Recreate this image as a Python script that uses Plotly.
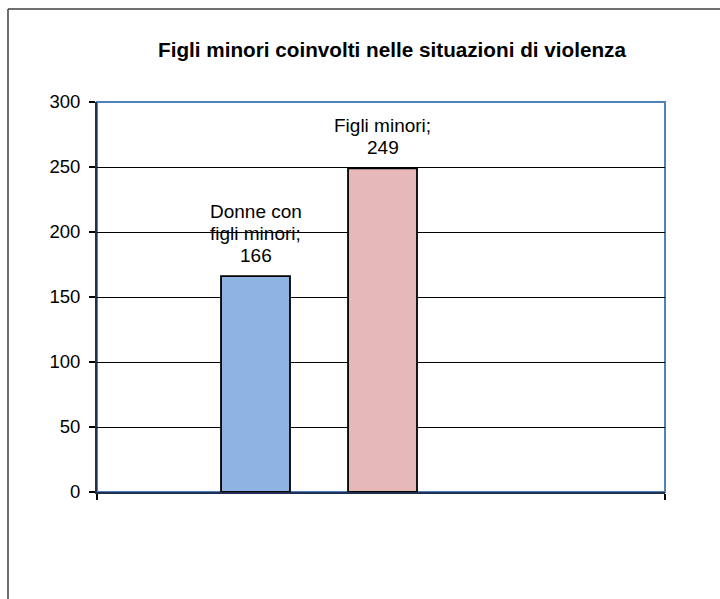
import plotly.graph_objects as go

categories = ["Donne con figli minori", "Figli minori"]
label_lines = [["Donne con", "figli minori;"], ["Figli minori;"]]
values = [166, 249]
colors = ["#8EB4E3", "#E6B9B8"]
y_ticks = [0, 50, 100, 150, 200, 250, 300]
title = "Figli minori coinvolti nelle situazioni di violenza"

x_pos = list(range(len(categories)))
FONT = "Arial, Liberation Sans, sans-serif"

fig = go.Figure()
fig.add_trace(go.Bar(
    x=x_pos, y=values, width=0.543,
    marker=dict(color=colors, line=dict(color="black", width=1.8)),
    hoverinfo="skip", showlegend=False,
))

for xi, parts, v in zip(x_pos, label_lines, values):
    lines = parts + [str(v)]
    for i, line in enumerate(reversed(lines)):
        fig.add_annotation(x=xi, y=v, text=line, showarrow=False,
                           yanchor="middle", yshift=21 + 22 * i,
                           font=dict(family=FONT, size=19, color="black"))

# plot area border (blue)
fig.add_shape(type="rect", xref="paper", yref="paper", x0=0, x1=1, y0=0, y1=1,
              line=dict(color="#4F81BD", width=2), layer="below")
# outer chart border (top and left edges visible)
fig.add_shape(type="line", xref="paper", yref="paper", x0=-0.1567, x1=1.3, y0=1.2385, y1=1.2385,
              line=dict(color="#404040", width=1.5), layer="below")
fig.add_shape(type="line", xref="paper", yref="paper", x0=-0.1567, x1=-0.1567, y0=-0.4, y1=1.2385,
              line=dict(color="#404040", width=1.5), layer="below")

fig.update_layout(
    width=720, height=599,
    margin=dict(l=97, r=55, t=102, b=107),
    paper_bgcolor="white", plot_bgcolor="white",
    title=dict(text=f"<b>{title}</b>", x=392/720, xanchor="center", y=1-50/599, yanchor="middle",
               font=dict(family=FONT, size=20.7, color="black")),
    font=dict(family=FONT, color="black"),
)
fig.update_xaxes(range=[-1.248, 3.224], tickvals=[-1.248, 3.224], ticktext=["", ""],
                 ticks="outside", ticklen=6, tickcolor="black", tickwidth=1.5,
                 showgrid=False, zeroline=False, showline=True, linecolor="#1F2F4F", linewidth=2)
fig.update_yaxes(range=[0, 300], tickvals=y_ticks, ticks="outside", ticklen=6, tickcolor="black",
                 tickwidth=1.5, showgrid=True, gridcolor="black", gridwidth=1, zeroline=False,
                 showline=True, linecolor="#1F2F4F", linewidth=2, ticklabelstandoff=5,
                 tickfont=dict(family=FONT, size=18.5, color="black"))

fig.write_html("out.html", config={"displayModeBar": False},
               post_script="document.body.style.margin='0';document.body.style.overflow='hidden';")
